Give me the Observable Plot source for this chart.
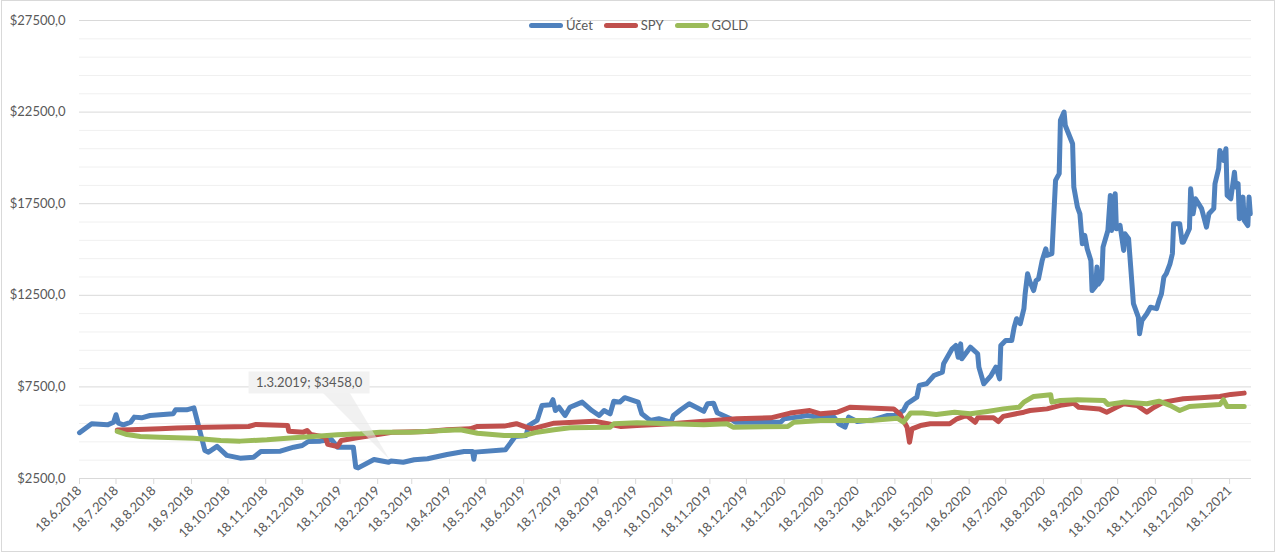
<!DOCTYPE html>
<html>
<head>
<meta charset="utf-8">
<script src="https://cdn.jsdelivr.net/npm/d3@7"></script>
<script src="https://cdn.jsdelivr.net/npm/@observablehq/plot@0.6"></script>
<style>
  html, body { margin: 0; padding: 0; background: #fff; }
  #wrap { position: relative; width: 1277px; height: 555px; overflow: hidden; font-family: Lato, "Open Sans", sans-serif; }
  #frame { position: absolute; left: 1px; top: 0px; width: 1274px; height: 552px; border: 1px solid #d9d9d9; box-sizing: border-box; pointer-events: none; }
  #legend { position: absolute; top: 17px; left: 0; width: 1277px; display: flex; justify-content: center; gap: 11px; font-size: 13px; line-height: 17px; color: #595959; }
  #legend .item { display: flex; align-items: center; gap: 3px; }
  #legend .sw { width: 34px; height: 5px; border-radius: 3px; }
  svg [aria-label="x-axis tick"] { stroke: #d9d9d9; }
  svg [aria-label="x-axis tick label"], svg [aria-label="y-axis tick label"] { fill: #595959; }
</style>
</head>
<body>
<div id="wrap"><div id="chart"></div><div id="legend"></div><div id="frame"></div></div>
<script>
// ---- Data ----
const seriesNames = ["Účet", "SPY", "GOLD"];
const seriesColors = ["#4f81bd", "#c0504d", "#9bbb59"];

const uctetDates = ["2018-06-18","2018-06-28","2018-07-11","2018-07-16","2018-07-18","2018-07-20","2018-07-24","2018-07-30","2018-08-02","2018-08-08","2018-08-15","2018-09-03","2018-09-05","2018-09-14","2018-09-20","2018-09-29","2018-10-02","2018-10-09","2018-10-17","2018-10-28","2018-11-08","2018-11-14","2018-11-30","2018-12-11","2018-12-18","2018-12-23","2019-01-02","2019-01-11","2019-01-16","2019-01-29","2019-01-31","2019-02-02","2019-02-15","2019-02-27","2019-03-01","2019-03-11","2019-03-20","2019-03-31","2019-04-16","2019-04-30","2019-05-07","2019-05-08","2019-05-09","2019-06-03","2019-06-11","2019-06-20","2019-06-22","2019-06-29","2019-07-03","2019-07-10","2019-07-12","2019-07-14","2019-07-17","2019-07-22","2019-07-26","2019-08-05","2019-08-13","2019-08-19","2019-08-23","2019-08-28","2019-08-31","2019-09-05","2019-09-09","2019-09-20","2019-09-23","2019-09-30","2019-10-07","2019-10-17","2019-10-19","2019-10-25","2019-11-01","2019-11-13","2019-11-16","2019-11-21","2019-11-24","2019-12-05","2019-12-09","2020-01-15","2020-01-18","2020-01-29","2020-02-06","2020-02-14","2020-02-28","2020-03-03","2020-03-08","2020-03-11","2020-03-18","2020-03-31","2020-04-12","2020-04-18","2020-04-25","2020-04-28","2020-05-06","2020-05-08","2020-05-14","2020-05-20","2020-05-27","2020-05-28","2020-06-04","2020-06-07","2020-06-09","2020-06-11","2020-06-12","2020-06-19","2020-06-25","2020-06-26","2020-06-30","2020-07-06","2020-07-10","2020-07-13","2020-07-14","2020-07-18","2020-07-23","2020-07-25","2020-07-27","2020-07-30","2020-08-02","2020-08-03","2020-08-05","2020-08-07","2020-08-10","2020-08-12","2020-08-14","2020-08-17","2020-08-20","2020-08-21","2020-08-25","2020-08-28","2020-08-31","2020-09-01","2020-09-04","2020-09-05","2020-09-11","2020-09-12","2020-09-15","2020-09-17","2020-09-19","2020-09-21","2020-09-23","2020-09-26","2020-09-27","2020-09-30","2020-10-01","2020-10-02","2020-10-05","2020-10-06","2020-10-10","2020-10-12","2020-10-13","2020-10-16","2020-10-17","2020-10-20","2020-10-23","2020-10-24","2020-10-27","2020-10-31","2020-11-04","2020-11-05","2020-11-07","2020-11-11","2020-11-14","2020-11-19","2020-11-21","2020-11-23","2020-11-25","2020-11-27","2020-11-30","2020-12-02","2020-12-03","2020-12-08","2020-12-10","2020-12-11","2020-12-16","2020-12-17","2020-12-19","2020-12-21","2020-12-26","2020-12-30","2021-01-01","2021-01-05","2021-01-06","2021-01-09","2021-01-10","2021-01-13","2021-01-15","2021-01-16","2021-01-19","2021-01-22","2021-01-23","2021-01-25","2021-01-26","2021-01-29","2021-01-30","2021-02-02","2021-02-03","2021-02-04"];
const uctetValues = [5000,5490,5430,5570,5980,5520,5430,5570,5850,5810,5940,6030,6250,6250,6360,4030,3940,4250,3760,3610,3660,3970,3990,4210,4300,4520,4540,4630,4210,4210,3120,3080,3540,3390,3458,3390,3520,3575,3810,3970,3970,3550,3940,4070,4790,4850,5390,5670,6490,6520,6800,6210,6390,5940,6390,6670,6210,5940,6210,6030,6720,6670,6910,6670,6030,5670,5760,5570,5940,6250,6580,6170,6580,6610,6090,5760,5570,5570,5760,5850,5940,5850,5850,5490,5300,5850,5610,5700,5940,5950,6210,6580,6940,7580,7670,8120,8300,8760,9580,9760,9120,9850,9040,9670,9310,8580,7670,8120,8580,7940,9760,10030,10030,10760,11220,10950,11770,12580,13680,13220,12760,13310,13400,14400,15040,14680,14770,18770,19140,22050,22500,21770,20770,18410,17310,16950,15310,15770,15040,14400,12760,13000,14040,13100,13400,15130,16040,17950,16040,18040,16130,16310,14950,15860,15590,12040,11310,10400,11130,11490,11850,11770,12220,12580,13490,13680,14220,14770,16410,16410,15400,15400,16130,18310,16950,17770,17230,16220,16950,17230,18590,19410,20410,19860,20500,17950,17770,19220,18410,18590,16680,17860,16590,16310,17860,16950];

const spyDates = ["2018-07-19","2018-07-30","2018-08-23","2018-09-06","2018-09-30","2018-11-04","2018-11-10","2018-12-06","2018-12-07","2018-12-19","2018-12-22","2018-12-25","2019-01-06","2019-01-08","2019-01-16","2019-01-19","2019-02-01","2019-03-03","2019-03-31","2019-04-16","2019-05-05","2019-05-11","2019-06-02","2019-06-12","2019-06-20","2019-06-25","2019-07-13","2019-08-15","2019-08-26","2019-09-06","2019-09-19","2019-10-17","2019-11-13","2019-12-10","2020-01-07","2020-01-23","2020-02-08","2020-02-17","2020-03-02","2020-03-12","2020-04-17","2020-04-22","2020-04-25","2020-04-28","2020-04-30","2020-05-02","2020-05-09","2020-05-17","2020-06-02","2020-06-08","2020-06-16","2020-06-23","2020-06-25","2020-07-08","2020-07-12","2020-07-16","2020-08-02","2020-08-07","2020-08-21","2020-09-01","2020-09-12","2020-09-16","2020-10-03","2020-10-09","2020-10-17","2020-10-23","2020-11-03","2020-11-11","2020-11-17","2020-11-25","2020-12-11","2020-12-25","2021-01-10","2021-01-19","2021-01-30"];
const spyValues = [5150,5160,5210,5250,5300,5340,5450,5390,5080,5030,5120,4900,4760,4360,4250,4570,4720,5030,5070,5160,5210,5340,5360,5490,5300,5210,5520,5630,5490,5340,5390,5490,5630,5760,5810,6070,6210,6030,6120,6390,6300,6030,5670,5300,4480,5210,5390,5490,5490,5760,5940,5570,5810,5810,5610,5890,6120,6210,6300,6490,6610,6390,6300,6120,6390,6580,6490,6120,6390,6670,6850,6910,6980,7090,7160];

const goldDates = ["2018-07-19","2018-07-27","2018-08-07","2018-08-23","2018-09-20","2018-10-12","2018-10-28","2018-11-19","2018-12-11","2018-12-27","2019-01-16","2019-02-04","2019-02-20","2019-03-17","2019-04-13","2019-04-27","2019-05-11","2019-06-02","2019-06-18","2019-06-29","2019-07-13","2019-07-26","2019-08-28","2019-08-31","2019-09-19","2019-10-17","2019-11-13","2019-12-02","2019-12-07","2020-01-21","2020-01-26","2020-02-17","2020-03-29","2020-04-20","2020-04-25","2020-05-01","2020-05-11","2020-05-22","2020-06-06","2020-06-19","2020-07-03","2020-07-16","2020-07-29","2020-08-02","2020-08-10","2020-08-24","2020-08-25","2020-09-01","2020-09-15","2020-10-07","2020-10-10","2020-10-23","2020-11-11","2020-11-21","2020-11-30","2020-12-08","2020-12-16","2021-01-10","2021-01-13","2021-01-16","2021-01-30"];
const goldValues = [5070,4900,4790,4750,4700,4570,4540,4610,4720,4790,4890,4940,5030,5030,5120,5160,4970,4850,4850,5030,5160,5270,5300,5490,5540,5490,5430,5490,5300,5340,5570,5670,5670,5790,5570,6080,6070,5990,6120,6030,6160,6300,6390,6670,6980,7070,6670,6760,6800,6760,6540,6670,6580,6720,6490,6210,6430,6540,6800,6430,6430];

const yTickValues = [2500, 7500, 12500, 17500, 22500, 27500];
const yMinorValues = [3500,4500,5500,6500,8500,9500,10500,11500,13500,14500,15500,16500,18500,19500,20500,21500,23500,24500,25500,26500];
const xDomain = ["2018-06-18", "2021-02-05"];
const xTickFirst = "2018-06-18", xTickLast = "2021-01-18";

const annotation = { date: "2019-03-01", value: 3458, label: "1.3.2019; $3458,0" };

// ---- Build table ----
const parse = d3.utcParse("%Y-%m-%d");
const rows = [];
function addSeries(name, dates, values) {
  dates.forEach((d, i) => rows.push({ series: name, date: parse(d), value: values[i] }));
}
addSeries(seriesNames[0], uctetDates, uctetValues);
addSeries(seriesNames[1], spyDates, spyValues);
addSeries(seriesNames[2], goldDates, goldValues);

const t0 = parse(xTickFirst), t1 = parse(xTickLast);
const xTicks = d3.utcMonth.range(d3.utcMonth.floor(t0), d3.utcMonth.offset(d3.utcMonth.floor(t1), 1)).map(m => d3.utcDay.offset(m, 17));
const fmtDate = d => `${d.getUTCDate()}.${d.getUTCMonth() + 1}.${d.getUTCFullYear()}`;

const chart = Plot.plot({
  width: 1277,
  height: 555,
  marginLeft: 79,
  marginRight: 26,
  marginTop: 20,
  marginBottom: 77,
  style: { fontFamily: "Lato, 'Open Sans', sans-serif", fontSize: "13px", color: "#595959", background: "transparent" },
  x: { type: "utc", domain: xDomain.map(parse) },
  y: { domain: [2500, 27500] },
  color: { domain: seriesNames, range: seriesColors },
  marks: [
    Plot.ruleY(yMinorValues, { stroke: "#f0f0f0", strokeWidth: 1 }),
    Plot.ruleY(yTickValues, { stroke: "#d9d9d9", strokeWidth: 1 }),
    Plot.axisY({ ticks: yTickValues, tickSize: 0, tickPadding: 14, tickFormat: d => "$" + d + ",0", label: null }),
    Plot.axisX({ ticks: xTicks, tickSize: 6, tickPadding: 4, tickRotate: -45, tickFormat: fmtDate, label: null }),
    Plot.line(rows, { x: "date", y: "value", z: "series", stroke: "series", strokeWidth: 5, strokeLinejoin: "round", strokeLinecap: "round", curve: "linear" })
  ]
});
document.getElementById("chart").appendChild(chart);

// ---- Data label callout, anchored to the data point via the plot's scales ----
(function () {
  const sx = chart.scale("x"), sy = chart.scale("y");
  const px = sx.apply(parse(annotation.date)), py = sy.apply(annotation.value);
  const svg = d3.select(chart);
  const g = svg.append("g").attr("aria-label", "data label");
  g.append("path")
    .attr("d", `M${px - 68},${py - 68} L${px - 41},${py - 68} L${px - 1},${py - 1} Z`)
    .attr("fill", "#e6e6e6").attr("fill-opacity", 0.55);
  g.append("rect")
    .attr("x", px - 142).attr("y", py - 89).attr("width", 121).attr("height", 22)
    .attr("fill", "#f2f2f2");
  g.append("text")
    .attr("x", px - 81.5).attr("y", py - 78).attr("text-anchor", "middle").attr("dy", "0.35em")
    .attr("fill", "#595959").attr("font-size", 13).text(annotation.label);
})();

// ---- Legend ----
const legend = document.getElementById("legend");
seriesNames.forEach((n, i) => {
  const it = document.createElement("div"); it.className = "item";
  const sw = document.createElement("span"); sw.className = "sw"; sw.style.background = seriesColors[i];
  const tx = document.createElement("span"); tx.textContent = n;
  it.appendChild(sw); it.appendChild(tx); legend.appendChild(it);
});
</script>
</body>
</html>
